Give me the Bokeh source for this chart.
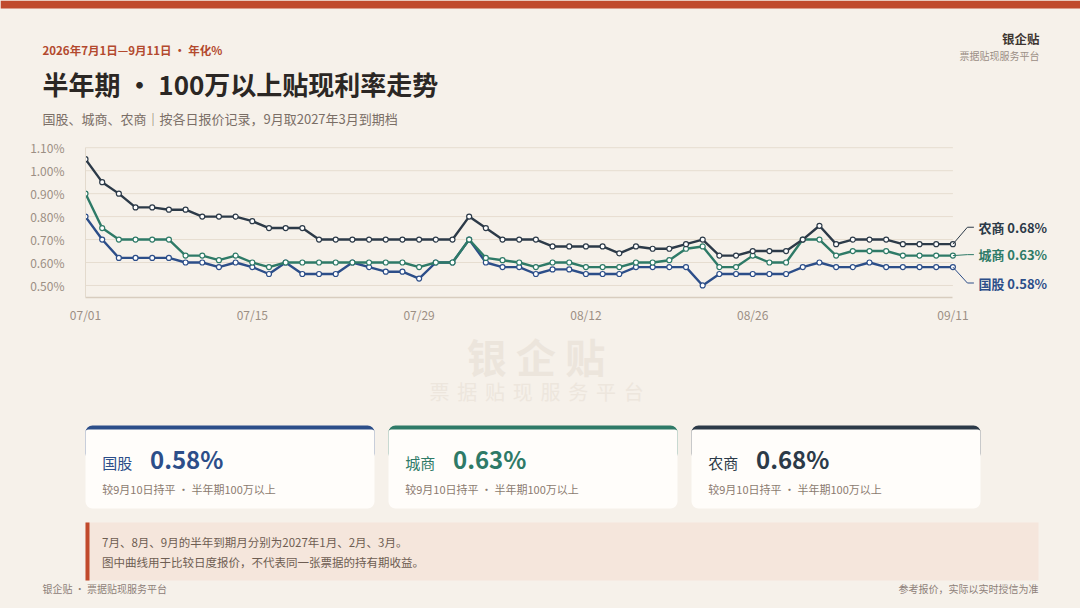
from bokeh.plotting import figure
from bokeh.models import ColumnDataSource, FixedTicker, PrintfTickFormatter, Range1d
from bokeh.core.properties import value
from bokeh.embed import file_html
from bokeh.resources import INLINE

# ---------------- data ----------------
dates = ["07/01", "07/02", "07/03", "07/06", "07/07", "07/08", "07/09", "07/10", "07/13", "07/14",
         "07/15", "07/16", "07/17", "07/20", "07/21", "07/22", "07/23", "07/24", "07/27", "07/28",
         "07/29", "07/30", "07/31", "08/03", "08/04", "08/05", "08/06", "08/07", "08/10", "08/11",
         "08/12", "08/13", "08/14", "08/17", "08/18", "08/19", "08/20", "08/21", "08/24", "08/25",
         "08/26", "08/27", "08/28", "08/31", "09/01", "09/02", "09/03", "09/04", "09/07", "09/08",
         "09/09", "09/10", "09/11"]

guogu = [0.80, 0.70, 0.62, 0.62, 0.62, 0.62, 0.60, 0.60, 0.58, 0.60,
         0.58, 0.55, 0.60, 0.55, 0.55, 0.55, 0.60, 0.58, 0.56, 0.56,
         0.53, 0.60, 0.60, 0.70, 0.60, 0.58, 0.58, 0.55, 0.57, 0.57,
         0.55, 0.55, 0.55, 0.58, 0.58, 0.58, 0.58, 0.50, 0.55, 0.55,
         0.55, 0.55, 0.55, 0.58, 0.60, 0.58, 0.58, 0.60, 0.58, 0.58,
         0.58, 0.58, 0.58]

chengshang = [0.90, 0.75, 0.70, 0.70, 0.70, 0.70, 0.63, 0.63, 0.61, 0.63,
              0.60, 0.58, 0.60, 0.60, 0.60, 0.60, 0.60, 0.60, 0.60, 0.60,
              0.58, 0.60, 0.60, 0.70, 0.62, 0.61, 0.60, 0.58, 0.60, 0.60,
              0.58, 0.58, 0.58, 0.60, 0.60, 0.61, 0.66, 0.67, 0.58, 0.58,
              0.63, 0.60, 0.60, 0.70, 0.70, 0.63, 0.65, 0.65, 0.65, 0.63,
              0.63, 0.63, 0.63]

nongshang = [1.05, 0.95, 0.90, 0.84, 0.84, 0.83, 0.83, 0.80, 0.80, 0.80,
             0.78, 0.75, 0.75, 0.75, 0.70, 0.70, 0.70, 0.70, 0.70, 0.70,
             0.70, 0.70, 0.70, 0.80, 0.75, 0.70, 0.70, 0.70, 0.67, 0.67,
             0.67, 0.67, 0.64, 0.67, 0.66, 0.66, 0.68, 0.70, 0.63, 0.63,
             0.65, 0.65, 0.65, 0.70, 0.76, 0.68, 0.70, 0.70, 0.70, 0.68,
             0.68, 0.68, 0.68]

series_names = ["国股", "城商", "农商"]
series_keys = ["guogu", "chengshang", "nongshang"]
series_colors = ["#2c4e89", "#2e7a67", "#2c3a48"]
tick_index = [0, 10, 20, 30, 40, 52]
y_ticks = [0.50, 0.60, 0.70, 0.80, 0.90, 1.00, 1.10]
card_note = "较9月10日持平 · 半年期100万以上"

BG = "#f6f1ea"
FONT = "Noto Sans CJK SC"
W = 1080
TOP_H, CHART_H = 135, 190
BOT_H = 608 - TOP_H - CHART_H


def base_fig(height, y_top, y_bottom):
    f = figure(width=W, height=height, output_backend="svg", toolbar_location=None,
               x_range=Range1d(0, W), y_range=Range1d(y_bottom, y_top),
               x_axis_type=None, y_axis_type=None, min_border=0)
    f.background_fill_color = BG
    f.border_fill_color = BG
    f.outline_line_color = None
    return f


def put_text(f, xs, ys, texts, size, color, bold=False, align="left"):
    f.text(x=xs, y=ys, text=texts, text_font=value(FONT), text_font_size=value(size),
           text_color=value(color), text_font_style=value("bold" if bold else "normal"),
           text_align=value(align), text_baseline=value("middle"))


# ---------------- header (page y 0..135) ----------------
ft = base_fig(TOP_H, 0, TOP_H)
ft.quad(left=[0], right=[W], top=[0], bottom=[8], fill_color="#c04b2d", line_color=None)
put_text(ft, [42], [49], ["2026年7月1日—9月11日 · 年化%"], "11.5px", "#b3492e", bold=True)
put_text(ft, [42], [83], ["半年期 · 100万以上贴现利率走势"], "26px", "#2b2724", bold=True)
put_text(ft, [42], [118], ["国股、城商、农商｜按各日报价记录，9月取2027年3月到期档"], "13px", "#7a6e66")
put_text(ft, [1039], [38], ["银企贴"], "12.5px", "#3d3530", bold=True, align="right")
put_text(ft, [1039], [55], ["票据贴现服务平台"], "10px", "#9b8e85", align="right")

# ---------------- chart (page y 135..325) ----------------
X_END = 59.65
Y_START, Y_END = 0.4476, 1.1532
FRAME_W, FRAME_H = W - 85, 163
px_x = FRAME_W / X_END
px_y = FRAME_H / (Y_END - Y_START)

src = ColumnDataSource(dict(x=list(range(len(dates))), guogu=guogu,
                            chengshang=chengshang, nongshang=nongshang))

fc = figure(width=W, height=CHART_H, output_backend="svg", toolbar_location=None,
            x_range=Range1d(0, X_END), y_range=Range1d(Y_START, Y_END),
            min_border_left=85, min_border_right=0, min_border_top=0,
            min_border_bottom=CHART_H - FRAME_H)
fc.background_fill_color = BG
fc.border_fill_color = BG
fc.outline_line_color = None
fc.grid.grid_line_color = None

last_idx = len(dates) - 1
fc.segment(x0=[0] * len(y_ticks), x1=[last_idx] * len(y_ticks), y0=y_ticks, y1=y_ticks,
           line_color="#e6ddd0", line_width=1)

fc.yaxis.ticker = FixedTicker(ticks=y_ticks)
fc.yaxis.formatter = PrintfTickFormatter(format="%.2f%%")
fc.yaxis.bounds = (Y_START, y_ticks[-1])
fc.xaxis.ticker = FixedTicker(ticks=tick_index)
fc.xaxis.major_label_overrides = {i: dates[i] for i in tick_index}
fc.xaxis.bounds = (0, last_idx)
for ax in (fc.xaxis, fc.yaxis):
    ax.major_tick_line_color = None
    ax.minor_tick_line_color = None
    ax.major_tick_out = 0
    ax.major_tick_in = 0
    ax.minor_tick_out = 0
    ax.minor_tick_in = 0
    ax.major_label_text_color = "#9c8f84"
    ax.major_label_text_font = FONT
    ax.major_label_text_font_size = "12px"
fc.yaxis.axis_line_color = "#e3dacd"
fc.xaxis.axis_line_color = "#d8cdbf"
fc.xaxis.axis_line_width = 1.3
fc.yaxis.major_label_standoff = 21
fc.xaxis.major_label_standoff = 8

for key, col in zip(series_keys, series_colors):
    fc.line(x="x", y=key, source=src, line_color=col, line_width=2.4)
    fc.scatter(x="x", y=key, source=src, size=5, fill_color="#ffffff",
               line_color=col, line_width=1.2)

# end labels with leader lines (pixel offsets converted through the chart scale)
end_vals = [guogu[-1], chengshang[-1], nongshang[-1]]
label_dy_px = [16, -1, -17]          # downward pixel offset of each label
for name, v, col, dy in zip(series_names, end_vals, series_colors, label_dy_px):
    ly = v - dy / px_y
    fc.line(x=[last_idx, last_idx + 14.5 / px_x, last_idx + 21 / px_x], y=[v, ly, ly],
            line_color=col, line_width=1)
    put_text(fc, [last_idx + 25.5 / px_x], [ly], [f"{name} {v:.2f}%"], "13px", col, bold=True)

# ---------------- bottom (page y 325..608) ----------------
fb = base_fig(BOT_H, TOP_H + CHART_H, 608)

# watermark
wm1 = list("银企贴")
put_text(fb, [486.2 + 49.3 * k for k in range(len(wm1))], [355] * len(wm1), wm1,
         "40px", "#ece5dc", bold=True, align="center")
wm2 = list("票据贴现服务平台")
put_text(fb, [439 + 27.76 * k for k in range(len(wm2))], [391] * len(wm2), wm2,
         "20px", "#ede6dd", align="center")

# cards
card_lefts = [85, 388, 691]
card_w = 289
for name, v, col, L in zip(series_names, end_vals, series_colors, card_lefts):
    fb.quad(left=[L], right=[L + card_w], top=[425], bottom=[460], fill_color=col,
            line_color=None, border_radius=7)
    fb.quad(left=[L], right=[L + card_w], top=[429], bottom=[508], fill_color="#fffdfa",
            line_color=None, border_radius=(3, 3, 7, 7))
    put_text(fb, [L + 16.7], [462], [name], "15px", col)
    put_text(fb, [L + 64.5], [458], [f"{v:.2f}%"], "24px", col, bold=True)
    put_text(fb, [L + 16.7], [488], [card_note], "11px", "#8c7b70")

# note box
fb.quad(left=[85], right=[1038], top=[522], bottom=[580], fill_color="#f5e6dc", line_color=None)
fb.quad(left=[85], right=[89], top=[522], bottom=[580], fill_color="#c14a2c", line_color=None)
put_text(fb, [101.6, 101.6], [541, 561],
         ["7月、8月、9月的半年到期月分别为2027年1月、2月、3月。",
          "图中曲线用于比较日度报价，不代表同一张票据的持有期收益。"], "11.5px", "#6e5d52")

# footer
put_text(fb, [42], [588], ["银企贴 · 票据贴现服务平台"], "10px", "#8d8078")
put_text(fb, [1038], [588], ["参考报价，实际以实时授信为准"], "10px", "#8d8078", align="right")

html = file_html([ft, fc, fb], INLINE)
html = html.replace("</head>", "<style>html,body{margin:0;padding:0;background:#f6f1ea;overflow:hidden;}</style></head>", 1)
open("out.html", "w").write(html)
